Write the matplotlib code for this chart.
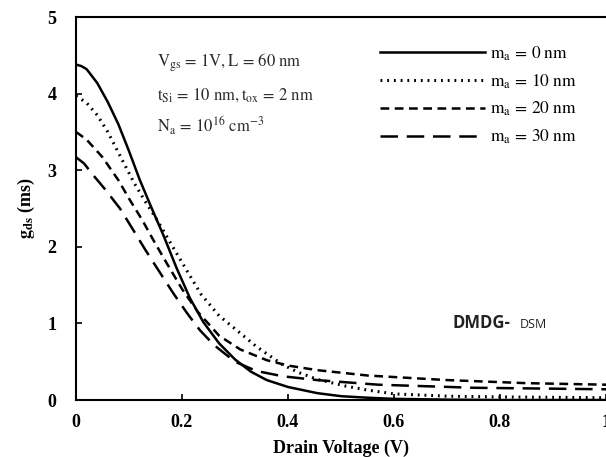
import numpy as np
import matplotlib
matplotlib.use('Agg')
import matplotlib.pyplot as plt

plt.rcParams['mathtext.fontset'] = 'stix'
plt.rcParams['font.family'] = 'Liberation Serif'

# m_a = 0 nm (solid)
x0 = [0, 0.01, 0.02, 0.04, 0.06, 0.08, 0.10, 0.12, 0.14, 0.165, 0.19, 0.215, 0.24, 0.27, 0.30, 0.33,
      0.36, 0.40, 0.455, 0.5, 0.55, 0.6, 0.7, 0.8, 1.0]
y0 = [4.38, 4.36, 4.32, 4.14, 3.89, 3.60, 3.25, 2.88, 2.55, 2.15, 1.72, 1.33, 1.02, 0.74, 0.53, 0.37,
      0.26, 0.17, 0.09, 0.05, 0.03, 0.015, 0.005, 0.0, 0.0]
# m_a = 10 nm (dotted)
x10 = [0, 0.02, 0.04, 0.06, 0.08, 0.11, 0.13, 0.153, 0.18, 0.21, 0.236, 0.27, 0.30, 0.34, 0.39,
       0.42, 0.455, 0.51, 0.55, 0.6, 0.7, 0.8, 1.0]
y10 = [3.97, 3.88, 3.72, 3.50, 3.23, 2.83, 2.60, 2.35, 2.03, 1.68, 1.38, 1.10, 0.93, 0.70, 0.46,
       0.36, 0.27, 0.18, 0.13, 0.08, 0.05, 0.04, 0.03]
# m_a = 20 nm (short dash)
x20 = [0, 0.02, 0.05, 0.08, 0.10, 0.125, 0.145, 0.17, 0.2, 0.23, 0.27, 0.31, 0.36, 0.40, 0.455,
       0.55, 0.7, 0.85, 1.0]
y20 = [3.5, 3.40, 3.17, 2.87, 2.63, 2.35, 2.10, 1.80, 1.45, 1.15, 0.84, 0.66, 0.52, 0.45, 0.39,
       0.32, 0.26, 0.22, 0.20]
# m_a = 30 nm (long dash)
x30 = [0, 0.015, 0.032, 0.055, 0.083, 0.108, 0.13, 0.155, 0.183, 0.21, 0.234, 0.26, 0.30, 0.34,
       0.39, 0.455, 0.57, 0.75, 1.0]
y30 = [3.17, 3.09, 2.94, 2.75, 2.50, 2.22, 1.97, 1.70, 1.40, 1.13, 0.91, 0.72, 0.50, 0.38,
       0.31, 0.26, 0.20, 0.16, 0.14]

labels = [r'$\mathrm{m_a\,=\,0\ nm}$', r'$\mathrm{m_a\,=\,10\ nm}$',
          r'$\mathrm{m_a\,=\,20\ nm}$', r'$\mathrm{m_a\,=\,30\ nm}$']

fig = plt.figure(figsize=(6.06, 4.57), dpi=100)
ax = fig.add_axes([0.1254, 0.1247, 0.8746, 0.838])

lw = 1.8
ax.plot(x0, y0, color='black', lw=lw, label=labels[0])
ax.plot(x10, y10, color='black', lw=2.2, linestyle=(0, (0.6, 1.6)), label=labels[1])
ax.plot(x20, y20, color='black', lw=lw, linestyle=(0, (3.5, 2.2)), label=labels[2])
ax.plot(x30, y30, color='black', lw=lw, linestyle=(0, (7, 3.5)), label=labels[3])

ax.set_xlim(0, 1)
ax.set_ylim(0, 5)
ax.set_xticks([0, 0.2, 0.4, 0.6, 0.8, 1])
ax.set_xticklabels(['0', '0.2', '0.4', '0.6', '0.8', '1'])
ax.set_yticks([0, 1, 2, 3, 4, 5])
ax.tick_params(direction='in', length=4, width=1.2, labelsize=13)
ax.tick_params(axis='x', pad=10)
ax.tick_params(axis='y', pad=14)
for lab in ax.get_xticklabels() + ax.get_yticklabels():
    lab.set_fontweight('bold')
ax.spines['right'].set_visible(False)
for s in ['left', 'bottom', 'top']:
    ax.spines[s].set_linewidth(1.5)

ax.set_xlabel('Drain Voltage (V)', fontsize=13, fontweight='bold')
ax.set_ylabel(r'$\mathbf{g_{ds}}$ (ms)', fontsize=13, fontweight='bold')
ax.xaxis.set_label_coords(0.5, -0.104)
ax.yaxis.set_label_coords(-0.074, 0.5)

ax.text(0.153, 4.4, r'$\mathrm{V_{gs}\,=\,1V, L\,=\,60\ nm}$', fontsize=12, va='center', color='#2a2a2a')
ax.text(0.153, 3.98, r'$\mathrm{t_{Si}\,=\,10\ nm, t_{ox}\,=\,2\ nm}$', fontsize=12, va='center', color='#2a2a2a')
ax.text(0.153, 3.58, r'$\mathrm{N_a\,=\,10^{16}\ cm^{-3}}$', fontsize=12, va='center', color='#2a2a2a')

ax.text(0.711, 1.0, 'DMDG-', fontsize=12, fontweight='bold', family='Open Sans', va='center', color='#222222')
ax.text(0.838, 0.98, 'DSM', fontsize=9, family='Open Sans', va='center', color='#222222')

leg = ax.legend(loc='upper left', bbox_to_anchor=(0.545, 0.97), frameon=False,
                handlelength=6.0, handletextpad=0.3, labelspacing=0.55, fontsize=12.5)

fig.savefig('out.png', dpi=100)
